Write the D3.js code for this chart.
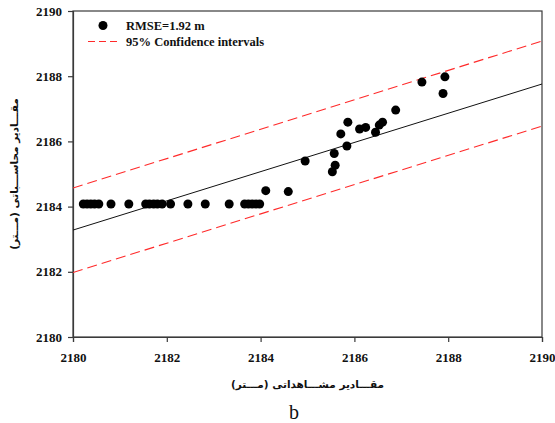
<!DOCTYPE html>
<html>
<head>
<meta charset="utf-8">
<script src="https://cdn.jsdelivr.net/npm/d3@7"></script>
<style>
  html, body { margin: 0; padding: 0; background: #fff; }
  svg { display: block; }
</style>
</head>
<body>
<svg id="chart" width="555" height="423"></svg>
<script>
// Observed vs. computed elevations (m)
const observed = [
  2180.22, 2180.30, 2180.38, 2180.46, 2180.55, 2180.81, 2181.19,
  2181.55, 2181.63, 2181.72, 2181.80, 2181.90, 2182.08, 2182.45, 2182.82, 2183.33,
  2183.66, 2183.74, 2183.82, 2183.90, 2183.98,
  2184.11, 2184.59, 2184.95, 2185.53, 2185.59, 2185.57, 2185.84, 2185.71, 2185.86,
  2186.11, 2186.24, 2186.45, 2186.53, 2186.60, 2186.88, 2187.44, 2187.93, 2187.89
];
const computed = [
  2184.08, 2184.08, 2184.08, 2184.08, 2184.08, 2184.08, 2184.08,
  2184.08, 2184.08, 2184.08, 2184.08, 2184.08, 2184.08, 2184.08, 2184.08, 2184.08,
  2184.08, 2184.08, 2184.08, 2184.08, 2184.08,
  2184.49, 2184.46, 2185.40, 2185.07, 2185.27, 2185.63, 2185.86, 2186.23, 2186.59,
  2186.38, 2186.43, 2186.28, 2186.50, 2186.59, 2186.96, 2187.82, 2187.98, 2187.47
];

// Fitted line and 95% confidence bounds, given at the two ends of the x range
const fitX = [2180, 2190];
const fitLine = [2183.28, 2187.76];
const upperBound = [2184.57, 2189.08];
const lowerBound = [2181.98, 2186.47];

const xTicks = [2180, 2182, 2184, 2186, 2188, 2190];
const yTicks = [2180, 2182, 2184, 2186, 2188, 2190];

const legendLabels = ["RMSE=1.92 m", "95% Confidence intervals"];
const xTitle = "مقـــادیر مشـــاهداتی (مـــتر)";
const yTitle = "مقـــادیر محاســـباتی (مـــتر)";
const panelLabel = "b";

const serif = "Liberation Serif, Times New Roman, serif";
const svg = d3.select("#chart");
const plot = { left: 73, right: 542, top: 11, bottom: 337 };

const x = d3.scaleLinear().domain([2180, 2190]).range([plot.left, plot.right]);
const y = d3.scaleLinear().domain([2180, 2190]).range([plot.bottom, plot.top]);

const frameColor = "#3a3a3a";

// Frame
svg.append("rect")
  .attr("x", plot.left).attr("y", plot.top)
  .attr("width", plot.right - plot.left).attr("height", plot.bottom - plot.top)
  .attr("fill", "none").attr("stroke", frameColor).attr("stroke-width", 1.2);

// Axes
const xAxis = svg.append("g")
  .attr("transform", `translate(0,${plot.bottom})`)
  .call(d3.axisBottom(x).tickValues(xTicks).tickFormat(d3.format("d")).tickSize(5).tickPadding(11));
const yAxis = svg.append("g")
  .attr("transform", `translate(${plot.left},0)`)
  .call(d3.axisLeft(y).tickValues(yTicks).tickFormat(d3.format("d")).tickSize(5).tickPadding(6));
[xAxis, yAxis].forEach(g => {
  g.attr("font-family", serif).attr("font-size", 13).attr("font-weight", "bold");
  g.select(".domain").attr("stroke", frameColor).attr("stroke-width", 1.2);
  g.selectAll(".tick line").attr("stroke", frameColor).attr("stroke-width", 1.2);
  g.selectAll(".tick text").attr("fill", "#111")
    .attr("font-family", serif).attr("font-size", 13).attr("font-weight", "bold");
});

// Lines clipped to the plot area
svg.append("clipPath").attr("id", "clip")
  .append("rect").attr("x", plot.left).attr("y", plot.top)
  .attr("width", plot.right - plot.left).attr("height", plot.bottom - plot.top);
const lines = svg.append("g").attr("clip-path", "url(#clip)");
const seg = vals => d3.line().x((d, i) => x(fitX[i])).y(d => y(d))(vals);

lines.append("path").attr("d", seg(upperBound))
  .attr("fill", "none").attr("stroke", "#ff2a2a").attr("stroke-width", 1.1).attr("stroke-dasharray", "10,5");
lines.append("path").attr("d", seg(lowerBound))
  .attr("fill", "none").attr("stroke", "#ff2a2a").attr("stroke-width", 1.1).attr("stroke-dasharray", "10,5");
lines.append("path").attr("d", seg(fitLine))
  .attr("fill", "none").attr("stroke", "#111").attr("stroke-width", 1);

// Points
svg.append("g").selectAll("circle")
  .data(observed.map((v, i) => [v, computed[i]]))
  .join("circle")
  .attr("cx", d => x(d[0])).attr("cy", d => y(d[1]))
  .attr("r", 4.5).attr("fill", "#000");

// Legend
const legend = svg.append("g").attr("font-family", serif)
  .attr("font-weight", "bold").attr("font-size", 12.5).attr("fill", "#111");
legend.append("circle").attr("cx", 103).attr("cy", 25.5).attr("r", 4.5).attr("fill", "#000");
legend.append("text").attr("x", 126).attr("y", 30).text(legendLabels[0]);
legend.append("line").attr("x1", 88).attr("x2", 119).attr("y1", 41.5).attr("y2", 41.5)
  .attr("stroke", "#ff2a2a").attr("stroke-width", 1.1).attr("stroke-dasharray", "7,4");
legend.append("text").attr("x", 126).attr("y", 45.5).text(legendLabels[1]);

// Axis titles
svg.append("text")
  .attr("x", (plot.left + plot.right) / 2).attr("y", 388)
  .attr("text-anchor", "middle").attr("direction", "rtl")
  .attr("font-family", "DejaVu Sans, Noto Sans, sans-serif").attr("font-weight", "bold").attr("font-size", 10.5)
  .attr("fill", "#111").text(xTitle);
svg.append("text")
  .attr("transform", `translate(18,${(plot.top + plot.bottom) / 2}) rotate(-90)`)
  .attr("text-anchor", "middle").attr("direction", "rtl")
  .attr("font-family", "DejaVu Sans, Noto Sans, sans-serif").attr("font-weight", "bold").attr("font-size", 10.5)
  .attr("fill", "#111").text(yTitle);

// Panel label
svg.append("text")
  .attr("x", 294).attr("y", 419).attr("text-anchor", "middle")
  .attr("font-family", serif).attr("font-size", 20)
  .attr("fill", "#111").text(panelLabel);
</script>
</body>
</html>
